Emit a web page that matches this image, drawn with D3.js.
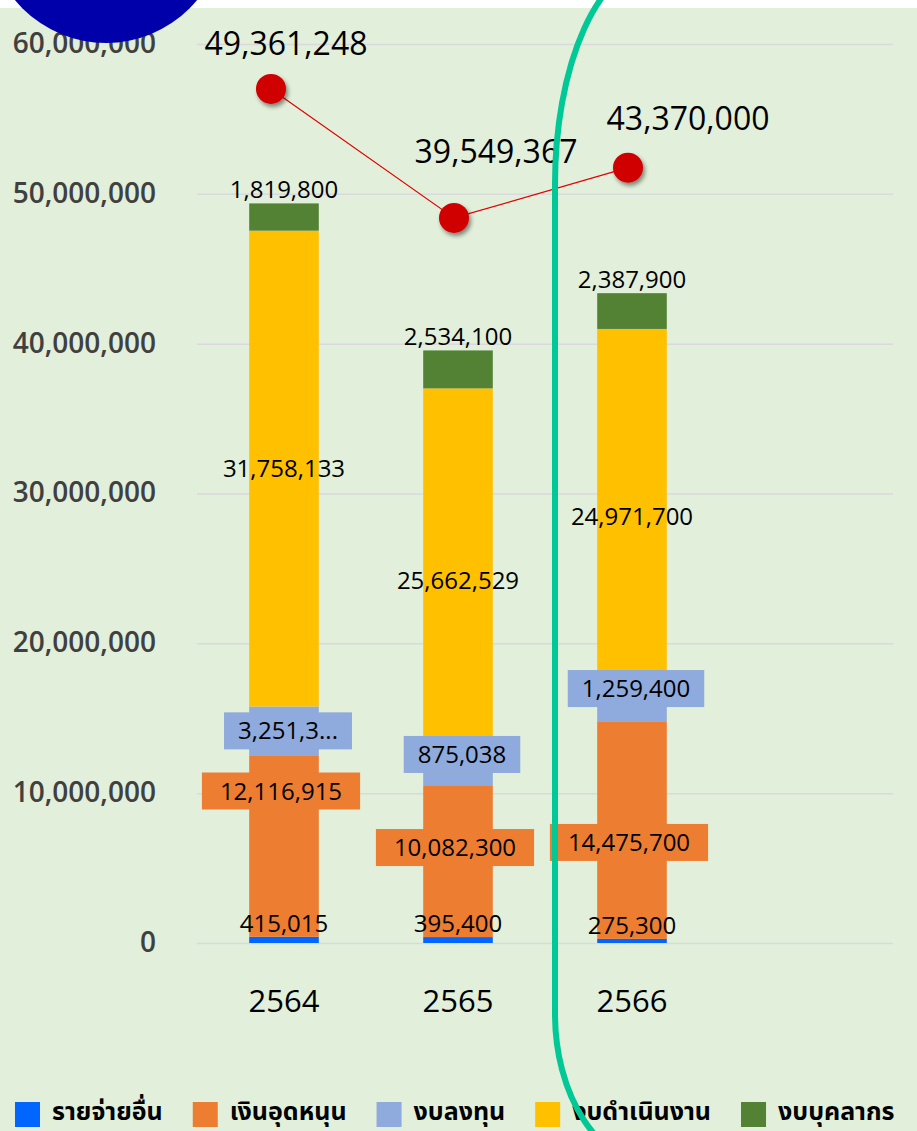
<!DOCTYPE html>
<html>
<head>
<meta charset="utf-8">
<script src="https://cdn.jsdelivr.net/npm/d3@7"></script>
<style>
  body { margin: 0; background: #ffffff; }
  svg { display: block; }
</style>
</head>
<body>
<div id="chart"></div>
<script>
// DATA
const years = ["2564", "2565", "2566"];
const seriesNames = ["รายจ่ายอื่น", "เงินอุดหนุน", "งบลงทุน", "งบดำเนินงาน", "งบบุคลากร"];
const otherExpense = [415015, 395400, 275300];      // รายจ่ายอื่น
const subsidy = [12116915, 10082300, 14475700];     // เงินอุดหนุน
const investment = [3251385, 875038, 1259400];      // งบลงทุน
const operating = [31758133, 25662529, 24971700];   // งบดำเนินงาน
const personnel = [1819800, 2534100, 2387900];      // งบบุคลากร
const totals = [49361248, 39549367, 43370000];      // line
const yTicks = [0, 10000000, 20000000, 30000000, 40000000, 50000000, 60000000];

// LAYOUT
const width = 917, height = 1131;
const colors = ["#0066FF", "#ED7D31", "#8FAADC", "#FFC000", "#548235"];
const labelFont = "'Open Sans', 'Noto Sans', sans-serif";
const thaiFont = "'Noto Sans Thai', 'Loma', 'Garuda', 'Tlwg Typo', 'Noto Sans', sans-serif";
// hand-moved data labels in the source (px, relative to segment middle)
const subsidyNudge = [-55, -14, 12];
const investNudge = [0, -25, -24];
const investClip = [7, 0, 0];            // first label is cut off in the source
const pointNudge = [-13, -4, -4];
const totalLabelNudge = [[2, -34], [38, -55], [56, -38]];

const svg = d3.select("#chart")
  .append("svg")
    .attr("width", width)
    .attr("height", height);

// drop shadow for the red markers
const defs = svg.append("defs");
defs.append("filter")
    .attr("id", "shadow")
    .attr("x", "-50%").attr("y", "-50%")
    .attr("width", "200%").attr("height", "200%")
  .append("feDropShadow")
    .attr("dx", 2).attr("dy", 3)
    .attr("stdDeviation", 2)
    .attr("flood-color", "#000")
    .attr("flood-opacity", 0.45);

// BACKGROUND
svg.append("rect")
    .attr("x", 0).attr("y", 8)
    .attr("width", width).attr("height", height - 8)
    .attr("fill", "#E2EFDA");

// + SCALES
const xScale = d3.scaleBand()
    .domain(years)
    .range([197, 719])
    .padding(0);
const barWidth = xScale.bandwidth() * 0.4;
const cx = d => xScale(d) + xScale.bandwidth() / 2;

const yScale = d3.scaleLinear()
    .domain([0, 60000000])
    .range([943, 44]);

// line sits on a hidden secondary axis
const y2Scale = d3.scaleLinear()
    .domain([0, 60000000])
    .range([738, -51]);

// + GRIDLINES
svg.append("g")
    .attr("transform", "translate(197,0)")
    .call(d3.axisLeft(yScale).tickValues(yTicks).tickSize(-696).tickFormat(""))
    .call(g => g.select(".domain").remove())
    .call(g => g.selectAll(".tick line").attr("stroke", "#D9D9DE").attr("stroke-width", 1.5));

// + Y AXIS
svg.append("g")
    .attr("transform", "translate(156,0)")
    .call(d3.axisLeft(yScale).tickValues(yTicks).tickSize(0).tickPadding(0).tickFormat(d3.format(",")))
    .call(g => g.select(".domain").remove())
    .call(g => g.selectAll("text")
        .attr("font-family", labelFont)
        .attr("font-size", 28)
        .attr("font-weight", 600)
        .attr("fill", "#404040")
        .attr("dy", "0.3em"));

// + X AXIS
svg.append("g")
    .attr("transform", "translate(0,1012)")
    .call(d3.axisBottom(xScale).tickSize(0).tickPadding(0))
    .call(g => g.select(".domain").remove())
    .call(g => g.selectAll("text")
        .attr("font-family", labelFont)
        .attr("font-size", 31)
        .attr("fill", "#000")
        .attr("dy", 0));

// STACK
const table = years.map((yr, i) => ({
  year: yr,
  [seriesNames[0]]: otherExpense[i],
  [seriesNames[1]]: subsidy[i],
  [seriesNames[2]]: investment[i],
  [seriesNames[3]]: operating[i],
  [seriesNames[4]]: personnel[i]
}));
const stacked = d3.stack().keys(seriesNames)(table);

// DRAW BARS
const layers = svg.append("g")
  .selectAll("g")
  .data(stacked)
  .join("g")
    .attr("fill", (d, i) => colors[i]);

layers.selectAll("rect")
  .data(d => d)
  .join("rect")
    .attr("x", d => cx(d.data.year) - barWidth / 2)
    .attr("width", barWidth)
    .attr("y", d => yScale(d[1]))
    .attr("height", d => yScale(d[0]) - yScale(d[1]));

// DRAW SEGMENT LABELS
const fmt = d3.format(",");
const labels = svg.append("g")
    .attr("font-family", labelFont)
    .attr("font-size", 24)
    .attr("fill", "#000");

function boxedLabel(g, x, y, text, fill, pad) {
  const t = g.append("text")
      .attr("x", x)
      .attr("y", y + 8.5)
      .attr("text-anchor", "middle")
      .text(text);
  const w = t.node().getComputedTextLength();
  g.insert("rect", "text")
      .attr("x", x - w / 2 - pad)
      .attr("y", y - 18.5)
      .attr("width", w + pad * 2)
      .attr("height", 37)
      .attr("fill", fill);
}

stacked.forEach((layer, s) => {
  layer.forEach((d, i) => {
    const x = cx(d.data.year);
    const top = yScale(d[1]);
    const mid = (yScale(d[0]) + yScale(d[1])) / 2;
    const value = d[1] - d[0];
    if (s === 0 || s === 4) {
      // outside end
      labels.append("text")
          .attr("x", x)
          .attr("y", top - 5)
          .attr("text-anchor", "middle")
          .text(fmt(value));
    } else if (s === 1) {
      const g = labels.append("g");
      boxedLabel(g, x - 3, mid + subsidyNudge[i], fmt(value), colors[1], 18);
    } else if (s === 2) {
      let txt = fmt(value);
      if (investClip[i]) txt = txt.slice(0, investClip[i]) + "...";
      const g = labels.append("g");
      boxedLabel(g, x + 4, mid + investNudge[i], txt, colors[2], 14);
    } else {
      labels.append("text")
          .attr("x", x)
          .attr("y", mid + 8.5)
          .attr("text-anchor", "middle")
          .text(fmt(value));
    }
  });
});

// + LINE (totals)
const pts = years.map((yr, i) => [cx(yr) + pointNudge[i], y2Scale(totals[i])]);

svg.append("path")
    .attr("d", d3.line()(pts))
    .attr("fill", "none")
    .attr("stroke", "#E00000")
    .attr("stroke-width", 1.2);

svg.append("g")
  .selectAll("circle")
  .data(pts)
  .join("circle")
    .attr("cx", d => d[0])
    .attr("cy", d => d[1])
    .attr("r", 15)
    .attr("fill", "#D00000")
    .attr("filter", "url(#shadow)");

svg.append("g")
  .selectAll("text")
  .data(totals)
  .join("text")
    .attr("x", (d, i) => cx(years[i]) + totalLabelNudge[i][0])
    .attr("y", (d, i) => y2Scale(d) + totalLabelNudge[i][1])
    .attr("text-anchor", "middle")
    .attr("font-family", labelFont)
    .attr("font-size", 32)
    .attr("fill", "#000")
    .text(d => fmt(d));

// + LEGEND
const legend = svg.append("g")
    .attr("transform", "translate(15,1102)");
let lx = 0;
seriesNames.forEach((name, i) => {
  legend.append("rect")
      .attr("x", lx).attr("y", 0)
      .attr("width", 25).attr("height", 25)
      .attr("fill", colors[i]);
  const t = legend.append("text")
      .attr("x", lx + 37)
      .attr("y", 18)
      .attr("font-family", thaiFont)
      .attr("font-size", 25)
      .attr("font-weight", "bold")
      .attr("fill", "#000")
      .text(name);
  lx += 37 + t.node().getComputedTextLength() + 30;
});

// ANNOTATION: teal highlight around 2566
svg.append("path")
    .attr("d", "M655,-36 A100,220 0 0 0 555,184 L555,1014 A100,151 0 0 0 655,1165")
    .attr("fill", "none")
    .attr("stroke", "#00C896")
    .attr("stroke-width", 6);

// ANNOTATION: blue circle top-left
svg.append("circle")
    .attr("cx", 106)
    .attr("cy", -75)
    .attr("r", 118)
    .attr("fill", "#0000AA");
</script>
</body>
</html>
